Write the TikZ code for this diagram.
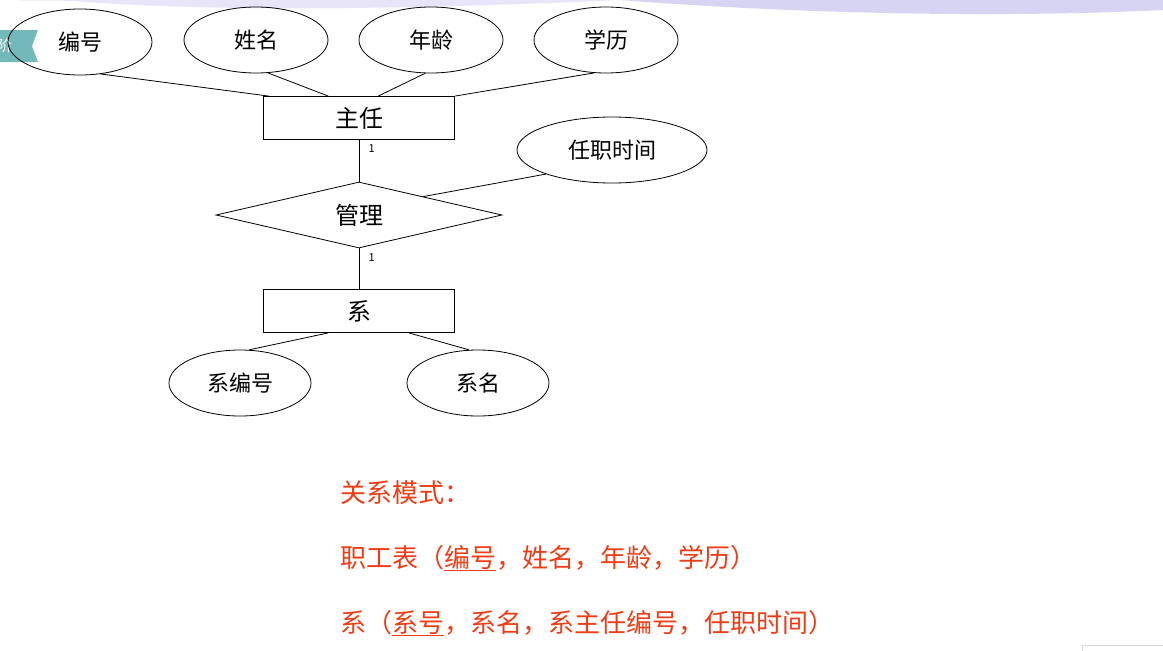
\documentclass[tikz,border=0pt]{standalone}
\usepackage{fontspec}
\setmainfont{Noto Sans CJK SC}
\usetikzlibrary{shapes.geometric,calc}
\begin{document}
\begin{tikzpicture}[x=1pt,y=-1pt,
  attr/.style={draw,thick,ellipse,minimum width=144pt,minimum height=66pt,inner sep=0pt,font=\fontsize{22}{24}\selectfont},
  ent/.style={draw,thick,rectangle,minimum width=191pt,minimum height=43pt,inner sep=0pt,font=\fontsize{24}{26}\selectfont},
  rel/.style={draw,thick,diamond,aspect=4.33,minimum width=286pt,minimum height=66pt,inner sep=0pt,font=\fontsize{24}{26}\selectfont},
  card/.style={font=\fontsize{11}{12}\selectfont},
  redtxt/.style={text=redt,font=\fontsize{26}{30}\selectfont,anchor=west,inner sep=0pt},
  conn/.style={thick}]
\definecolor{redt}{RGB}{240,60,20}
\definecolor{lav}{RGB}{214,212,242}
\useasboundingbox (0,0) rectangle (1163,651);
\fill[white] (0,0) rectangle (1163,651);
\fill[lav] (620,0) .. controls (800,14) and (1000,18) .. (1163,10) -- (1163,0) -- cycle;
\fill[lav!60] (60,0) .. controls (200,12) and (400,10) .. (620,0) -- cycle;
\fill[violet!45] (20,0) arc[start angle=180,end angle=360,x radius=25,y radius=12] -- cycle;
\fill[teal!55] (0,30) -- (38,30) -- (32,46) -- (38,62) -- (0,62) -- cycle;
\node[white,font=\fontsize{15}{15}\selectfont,anchor=east,inner sep=0pt] (tag) at (12,46) {阶};
\node[attr] (a1) at (80,42) {编号};
\node[attr] (a2) at (256,40) {姓名};
\node[attr] (a3) at (431,40) {年龄};
\node[attr] (a4) at (606,40) {学历};
\node[ent] (zr) at (359,118) {主任};
\node[attr,minimum width=190pt] (rz) at (612,150) {任职时间};
\node[rel] (gl) at (359,215) {管理};
\node[ent] (xi) at (359,311) {系};
\node[attr,minimum width=142pt] (b1) at (240,383) {系编号};
\node[attr,minimum width=142pt] (b2) at (478,383) {系名};
\draw[conn] (a1.-57) -- ($(zr.north west)!0.03!(zr.north east)$);
\draw[conn] (a2.-70) -- ($(zr.north west)!0.34!(zr.north east)$);
\draw[conn] (a3.-100) -- ($(zr.north west)!0.60!(zr.north east)$);
\draw[conn] (a4.-110) -- (zr.north east);
\draw[conn] (zr.south) -- node[card,pos=0.22,right=6pt] (k1) {1} (gl.north);
\draw[conn] (gl.south) -- node[card,pos=0.22,right=6pt] (k2) {1} (xi.north);
\draw[conn] (gl.16) -- (rz.200);
\draw[conn] ($(xi.south west)!0.34!(xi.south east)$) -- (b1.75);
\draw[conn] ($(xi.south west)!0.76!(xi.south east)$) -- (b2.105);
\node[redtxt] (t1) at (340,493) {关系模式：};
\node[redtxt] (t2) at (340,558) {职工表（\underline{编号}，姓名，年龄，学历）};
\node[redtxt] (t3) at (340,623) {系（\underline{系号}，系名，系主任编号，任职时间）};
\draw[gray!30] (1082,651) -- (1082,645) -- (1163,645);
\end{tikzpicture}
\end{document}
